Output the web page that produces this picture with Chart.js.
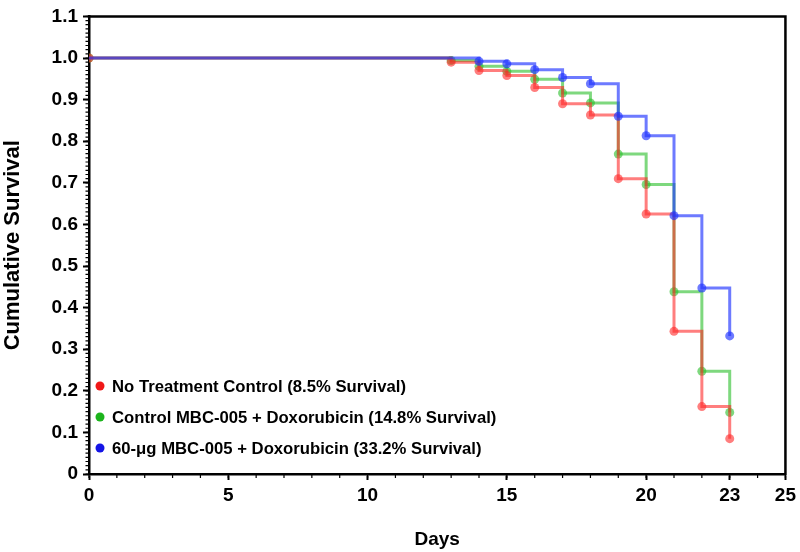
<!DOCTYPE html>
<html>
<head>
<meta charset="utf-8">
<script src="https://cdn.jsdelivr.net/npm/chart.js@4.4.0/dist/chart.umd.min.js"></script>
<style>
html, body { margin: 0; padding: 0; background: #fff; }
#wrap { width: 800px; height: 552px; }
</style>
</head>
<body>
<div id="wrap"><canvas id="kmChart"></canvas></div>
<script>
// survival curves
let days = [0, 13, 14, 15, 16, 17, 18, 19, 20, 21, 22, 23];
let blueDays = [0, 14, 15, 16, 17, 18, 19, 20, 21, 22, 23];

let noTreatment = [1.0, 0.990, 0.970, 0.958, 0.929, 0.890, 0.863, 0.710, 0.625, 0.343, 0.162, 0.085];
let controlMBC = [1.0, 0.994, 0.980, 0.968, 0.949, 0.916, 0.892, 0.769, 0.696, 0.438, 0.247, 0.148];
let mbc60 = [1.0, 0.992, 0.986, 0.972, 0.953, 0.938, 0.860, 0.813, 0.621, 0.447, 0.332];

let labels = ['No Treatment Control (8.5% Survival)', 'Control MBC-005 + Doxorubicin (14.8% Survival)', '60-\u03bcg MBC-005 + Doxorubicin (33.2% Survival)'];
let legendColors = ['#f01818', '#1cb41c', '#1414e6'];
let lineColors = ['rgba(255,40,40,0.6)', 'rgba(40,190,40,0.6)', 'rgba(30,50,255,0.65)'];

let xTicks = [0, 5, 10, 15, 20, 23, 25];
let yTicks = [0, 0.1, 0.2, 0.3, 0.4, 0.5, 0.6, 0.7, 0.8, 0.9, 1.0, 1.1];

const fontFamily = '"Liberation Sans", Arial, Helvetica, sans-serif';

function toPoints(xs, ys) {
    return xs.map((x, i) => ({ x: x, y: ys[i] }));
}

function makeSet(idx, xs, ys, order, skipFirst) {
    return {
        label: labels[idx],
        data: toPoints(xs, ys),
        stepped: 'before',
        borderColor: lineColors[idx],
        backgroundColor: lineColors[idx],
        borderWidth: 3,
        pointRadius: (c) => (skipFirst && c.dataIndex === 0) ? 0 : 4.5,
        pointBorderWidth: 0,
        pointHoverRadius: 4.5,
        order: order
    };
}

// top/right frame plus minor ticks
const framePlugin = {
    id: 'frame',
    afterDraw(chart) {
        const ctx = chart.ctx;
        const a = chart.chartArea;
        const sx = chart.scales.x, sy = chart.scales.y;
        ctx.save();
        ctx.strokeStyle = '#000';
        ctx.lineWidth = 2.5;
        ctx.beginPath();
        ctx.moveTo(a.left - 1.25, a.top);
        ctx.lineTo(a.right, a.top);
        ctx.lineTo(a.right, a.bottom + 1.25);
        ctx.stroke();

        ctx.lineWidth = 1.2;
        ctx.beginPath();
        for (let d = 0; d <= 25; d++) {
            const x = sx.getPixelForValue(d);
            ctx.moveTo(x, a.bottom);
            ctx.lineTo(x, a.bottom + 4);
        }
        for (let i = 0; i <= 110; i++) {
            const y = sy.getPixelForValue(i / 100);
            ctx.moveTo(a.left - 3.5, y);
            ctx.lineTo(a.left, y);
        }
        ctx.stroke();
        ctx.restore();
    }
};

// legend sits inside the plot, bottom left
const legendPlugin = {
    id: 'innerLegend',
    afterDraw(chart) {
        const ctx = chart.ctx;
        const a = chart.chartArea;
        ctx.save();
        ctx.font = 'bold 16.7px ' + fontFamily;
        ctx.textBaseline = 'middle';
        ctx.textAlign = 'left';
        labels.forEach((txt, i) => {
            const y = a.bottom - 88 + i * 31;
            ctx.fillStyle = legendColors[i];
            ctx.beginPath();
            ctx.arc(a.left + 11, y, 4.5, 0, Math.PI * 2);
            ctx.fill();
            ctx.fillStyle = '#000';
            ctx.fillText(txt, a.left + 23, y + 1);
        });
        ctx.restore();
    }
};

let ctx = document.getElementById('kmChart').getContext('2d');

let kmChart = new Chart(ctx, {
    type: 'line',
    data: {
        datasets: [
            makeSet(0, days, noTreatment, 2, false),
            makeSet(1, days, controlMBC, 3, false),
            makeSet(2, blueDays, mbc60, 1, true)
        ]
    },
    options: {
        responsive: true,
        maintainAspectRatio: false,
        animation: false,
        layout: {
            padding: { top: 9, right: 12, left: 0, bottom: 0 }
        },
        plugins: {
            legend: { display: false },
            tooltip: { enabled: false }
        },
        scales: {
            x: {
                type: 'linear',
                min: 0,
                max: 25,
                afterBuildTicks: (scale) => { scale.ticks = xTicks.map(v => ({ value: v })); },
                afterFit: (scale) => { scale.height = 78; },
                grid: { display: true, drawOnChartArea: false, drawTicks: true, tickLength: 6, tickWidth: 2, tickColor: '#000' },
                border: { display: true, color: '#000', width: 2.5 },
                ticks: {
                    color: '#000',
                    autoSkip: false,
                    maxRotation: 0,
                    padding: 4,
                    font: { family: fontFamily, size: 19, weight: 'bold' }
                },
                title: {
                    display: true,
                    text: 'Days',
                    color: '#000',
                    font: { family: fontFamily, size: 19, weight: 'bold' },
                    padding: { top: 0, bottom: 1 }
                }
            },
            y: {
                min: 0,
                max: 1.1,
                afterBuildTicks: (scale) => { scale.ticks = yTicks.map(v => ({ value: v })); },
                afterFit: (scale) => { scale.width = 89; },
                grid: { display: true, drawOnChartArea: false, drawTicks: true, tickLength: 6, tickWidth: 2, tickColor: '#000' },
                border: { display: true, color: '#000', width: 2.5 },
                ticks: {
                    color: '#000',
                    autoSkip: false,
                    padding: 5,
                    font: { family: fontFamily, size: 19, weight: 'bold' },
                    callback: (v) => v === 0 ? '0' : v.toFixed(1)
                },
                title: {
                    display: true,
                    text: 'Cumulative Survival',
                    color: '#000',
                    font: { family: fontFamily, size: 22, weight: 'bold' },
                    padding: { top: 0, bottom: 0 }
                }
            }
        }
    },
    plugins: [framePlugin, legendPlugin]
});
</script>
</body>
</html>
